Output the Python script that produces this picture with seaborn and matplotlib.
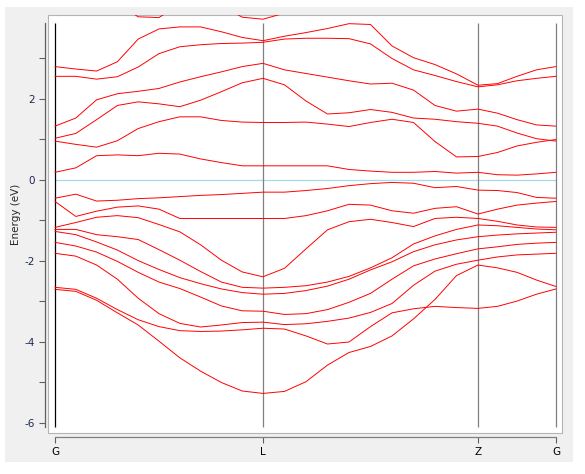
import numpy as np
import pandas as pd
import matplotlib
matplotlib.use("Agg")
import matplotlib.pyplot as plt
import seaborn as sns
from matplotlib.patches import Rectangle

# high-symmetry points along the path
k_nodes = [0.0, 2.08, 4.23, 5.01]
k_labels = ["G", "L", "Z", "G"]

# sample points per segment (G-L, L-Z, Z-G)
k_grid = np.concatenate([np.linspace(k_nodes[0], k_nodes[1], 11),
                         np.linspace(k_nodes[1], k_nodes[2], 11)[1:],
                         np.linspace(k_nodes[2], k_nodes[3], 5)[1:]])

# valence bands (eV)
v1 = [-2.70, -2.75, -2.97, -3.28, -3.58, -3.98, -4.39, -4.72, -5.00, -5.21, -5.27,
      -5.22, -4.98, -4.57, -4.26, -4.11, -3.85, -3.43, -2.95, -2.36, -2.10,
      -2.17, -2.28, -2.47, -2.63]
v2 = [-2.65, -2.70, -2.92, -3.20, -3.45, -3.62, -3.72, -3.74, -3.73, -3.70, -3.66,
      -3.68, -3.85, -4.05, -4.00, -3.62, -3.28, -3.18, -3.12, -3.15, -3.17,
      -3.12, -2.99, -2.82, -2.69]
v3 = [-1.81, -1.88, -2.10, -2.45, -2.92, -3.30, -3.54, -3.63, -3.58, -3.52, -3.51,
      -3.57, -3.55, -3.49, -3.41, -3.27, -3.05, -2.60, -2.25, -2.08, -1.98,
      -1.90, -1.85, -1.83, -1.81]
v4 = [-1.54, -1.63, -1.78, -2.01, -2.28, -2.52, -2.68, -2.89, -3.11, -3.23, -3.24,
      -3.32, -3.30, -3.20, -3.02, -2.80, -2.45, -2.12, -1.95, -1.82, -1.70,
      -1.65, -1.59, -1.56, -1.54]
v5 = [-1.27, -1.35, -1.53, -1.73, -1.99, -2.21, -2.41, -2.56, -2.69, -2.78, -2.82,
      -2.80, -2.73, -2.62, -2.45, -2.22, -2.02, -1.77, -1.60, -1.48, -1.40,
      -1.36, -1.33, -1.31, -1.29]
v6 = [-1.22, -1.22, -1.35, -1.40, -1.47, -1.72, -1.98, -2.26, -2.52, -2.65, -2.67,
      -2.65, -2.61, -2.52, -2.38, -2.17, -1.92, -1.58, -1.38, -1.22, -1.11,
      -1.13, -1.17, -1.21, -1.23]
v7 = [-1.17, -1.05, -0.92, -0.88, -0.93, -1.10, -1.28, -1.60, -1.98, -2.27, -2.39,
      -2.18, -1.70, -1.23, -1.03, -0.97, -1.05, -1.15, -0.95, -0.92, -0.95,
      -1.02, -1.11, -1.16, -1.17]
v8 = [-0.53, -0.90, -0.77, -0.67, -0.64, -0.72, -0.95, -0.95, -0.95, -0.95, -0.95,
      -0.95, -0.88, -0.76, -0.60, -0.62, -0.76, -0.82, -0.70, -0.66, -0.84,
      -0.72, -0.62, -0.57, -0.53]
v9 = [-0.45, -0.35, -0.52, -0.50, -0.46, -0.44, -0.41, -0.38, -0.36, -0.33, -0.30,
      -0.30, -0.26, -0.21, -0.14, -0.09, -0.06, -0.08, -0.19, -0.16, -0.25,
      -0.26, -0.31, -0.43, -0.45]

# conduction bands (eV)
c1 = [0.19, 0.30, 0.60, 0.62, 0.60, 0.66, 0.64, 0.52, 0.43, 0.35, 0.35,
      0.35, 0.35, 0.35, 0.26, 0.22, 0.19, 0.19, 0.21, 0.17, 0.19,
      0.13, 0.12, 0.15, 0.19]
c2 = [0.96, 0.88, 0.81, 0.97, 1.27, 1.44, 1.56, 1.56, 1.47, 1.43, 1.42,
      1.42, 1.43, 1.38, 1.32, 1.42, 1.50, 1.42, 0.95, 0.57, 0.58,
      0.68, 0.84, 0.93, 1.00]
c3 = [1.03, 1.15, 1.49, 1.84, 1.93, 1.88, 1.81, 1.97, 2.18, 2.40, 2.51,
      2.35, 1.95, 1.63, 1.66, 1.74, 1.67, 1.53, 1.50, 1.44, 1.40,
      1.33, 1.16, 1.02, 0.96]
c4 = [1.33, 1.53, 1.98, 2.13, 2.19, 2.26, 2.42, 2.55, 2.67, 2.80, 2.88,
      2.72, 2.63, 2.54, 2.45, 2.37, 2.39, 2.22, 1.84, 1.70, 1.75,
      1.65, 1.49, 1.36, 1.33]
c5 = [2.56, 2.56, 2.49, 2.55, 2.79, 3.12, 3.29, 3.34, 3.37, 3.38, 3.40,
      3.48, 3.50, 3.50, 3.49, 3.36, 3.00, 2.72, 2.58, 2.43, 2.30,
      2.35, 2.45, 2.51, 2.56]
c6 = [2.80, 2.74, 2.69, 2.92, 3.48, 3.73, 3.78, 3.78, 3.66, 3.52, 3.44,
      3.55, 3.64, 3.74, 3.86, 3.84, 3.31, 3.02, 2.85, 2.62, 2.34,
      2.38, 2.56, 2.72, 2.80]
c7 = [4.55, 4.50, 4.45, 4.35, 4.03, 4.01, 4.35, 4.45, 4.30, 4.02, 3.97,
      4.12, 4.40, 4.50, 4.55, 4.60, 4.60, 4.60, 4.60, 4.60, 4.60,
      4.60, 4.60, 4.60, 4.55]

bands = [v1, v2, v3, v4, v5, v6, v7, v8, v9, c1, c2, c3, c4, c5, c6, c7]

df = pd.concat([pd.DataFrame({"k": k_grid, "E": b, "band": i})
                for i, b in enumerate(bands)], ignore_index=True)

sns.set_style("white")
plt.rcParams["font.family"] = ["DejaVu Sans"]
plt.rcParams["axes.unicode_minus"] = False

W, H = 585, 474
fig = plt.figure(figsize=(W / 100, H / 100), dpi=100)
fig.patch.set_facecolor("white")

# grey panel and white plotting box
fig.add_artist(Rectangle((5 / W, 1 - 462 / H), 568 / W, 455 / H,
                         transform=fig.transFigure, facecolor="#f0f0f0",
                         edgecolor="none", zorder=0))
fig.add_artist(Rectangle((48 / W, 1 - 433 / H), 514 / W, 418 / H,
                         transform=fig.transFigure, facecolor="white",
                         edgecolor="#b4b4b4", lw=0.8, zorder=0.5))

ax = fig.add_axes([48 / W, 1 - 433 / H, 514 / W, 418 / H])
ax.set_zorder(2)
ax.patch.set_alpha(0)

e_lo, e_hi = -6.1, 3.88
ax.vlines(k_nodes[0], e_lo, e_hi, color="black", lw=0.9, zorder=2)
ax.vlines(k_nodes[1:], e_lo, e_hi, color="#808080", lw=0.9, zorder=2)
ax.hlines(0, k_nodes[0], k_nodes[-1], color="#a6d8ea", lw=0.9, zorder=1)

sns.lineplot(data=df, x="k", y="E", units="band", estimator=None,
             color="red", lw=0.7, sort=False, ax=ax, zorder=3)

ax.set_xlim(-0.07, 5.07)
ax.set_ylim(-6.247, 4.074)

ax.set_xticks(k_nodes)
ax.set_xticklabels(k_labels)
ax.set_yticks([-6, -4, -2, 0, 2])
ax.set_yticks([-5, -3, -1, 1, 3], minor=True)
ax.tick_params(axis="both", which="both", direction="out", length=4,
               width=0.8, color="#606060", labelsize=7.5)
ax.tick_params(axis="both", which="both", left=True, bottom=True)
ax.tick_params(axis="y", pad=3, labelcolor="#1c2a50")
ax.tick_params(axis="x", pad=3.5, labelcolor="black")
ax.set_xlabel("")
ax.set_ylabel("")

for s in ["top", "right"]:
    ax.spines[s].set_visible(False)
ax.spines["left"].set_position(("outward", 2.2))
ax.spines["left"].set_bounds(e_lo, e_hi)
ax.spines["left"].set_color("#606060")
ax.spines["left"].set_linewidth(0.9)
ax.spines["bottom"].set_position(("outward", 2.9))
ax.spines["bottom"].set_bounds(k_nodes[0], k_nodes[-1])
ax.spines["bottom"].set_color("#808080")
ax.spines["bottom"].set_linewidth(0.9)

fig.text(16 / W, 1 - 214 / H, "Energy (eV)", rotation=90, fontsize=7.5,
         ha="center", va="center")

fig.savefig("out.png", dpi=100)
